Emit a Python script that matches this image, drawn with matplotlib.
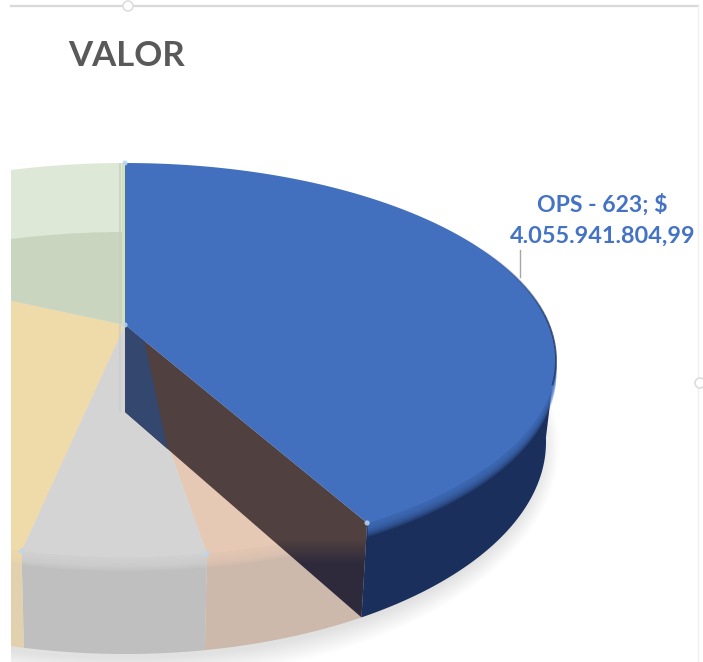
import numpy as np
import matplotlib
matplotlib.use("Agg")
import matplotlib.pyplot as plt
from matplotlib.patches import Polygon, Ellipse, Rectangle, Circle
from matplotlib.colors import to_rgb

# ---- data (only the first value is printed in it)
slice_names = ["OPS - 623", "B", "C", "D", "E"]
slice_values = [4055941804.99, 646000000, 691000000, 3068000000, 1552000000]
top_colors = ["#4270BE", "#E6C9B5", "#D4D4D4", "#EFDAA9", "#DEE8D6"]
side_colors = ["#1B2F5C", "#CDB9AC", "#BFBFBF", "#E2D1AE", "#C9D5BF"]
title_text = "VALOR"
label_lines = ["OPS - 623; $", "4.055.941.804,99"]

W, H = 703, 662
fig = plt.figure(figsize=(W / 100, H / 100), dpi=100)
ax = fig.add_axes([0, 0, 1, 1])
ax.set_xlim(0, W)
ax.set_ylim(H, 0)
ax.axis("off")

# perspective geometry of the pie, in pixels
CX, CY, RX, RY = 125, 360, 431, 197        # top ellipse
BX, BY, BRX, BRY = 125, 442, 421, 212      # bottom ellipse
APEX = np.array([125, 325])
APEX_B = np.array([125, 412])


def top_pt(t):
    return np.c_[CX + RX * np.sin(t), CY - RY * np.cos(t)]


def bot_pt(t):
    return np.c_[BX + BRX * np.sin(t), BY - BRY * np.cos(t)]


fr = np.array(slice_values) / np.sum(slice_values)
edges = np.r_[0, np.cumsum(fr)] * 2 * np.pi

# soft shadow
for k in range(15):
    ax.add_patch(Ellipse((122, 447), 2 * (420 + k * 1.2), 2 * (212 + k * 1.6),
                         fc="k", ec="none", alpha=0.009, zorder=1))


def fuzzy_rim(t, color, zorder, n=9, step=1.5):
    p = top_pt(t)
    for i in range(n, 0, -1):
        ax.fill_between(p[:, 0], p[:, 1] - 3, p[:, 1] + i * step, color=color,
                        alpha=0.22, lw=0, zorder=zorder)


# faded slices
for i in range(1, 5):
    t0, t1 = edges[i], edges[i + 1]
    t = np.linspace(t0, t1, 120)
    vis = np.linspace(max(t0, np.pi / 2), min(t1, 1.5 * np.pi), 120)
    if vis[-1] > vis[0]:
        side = np.vstack([top_pt(vis), bot_pt(vis)[::-1]])
        ax.add_patch(Polygon(side, fc=side_colors[i], ec="none", zorder=2))
    ax.add_patch(Polygon(np.vstack([APEX, top_pt(t)]), fc=top_colors[i], ec="none", zorder=3))
    if vis[-1] > vis[0]:
        fuzzy_rim(vis, top_colors[i], 4)

# darker band of the back slice
t = np.linspace(edges[4], edges[5], 200)
clip = Polygon(np.vstack([APEX, top_pt(t)]), transform=ax.transData, fc="none", ec="none")
ax.add_patch(clip)
band = Ellipse((CX, 429), 2 * RX, 2 * RY, fc=side_colors[4], ec="none", zorder=5)
ax.add_patch(band)
band.set_clip_path(clip)

# thin strips beside the slice joint
ax.plot([124, 124], [163, 325], color="#D7E1B6", lw=3, zorder=6, solid_capstyle="butt")
ax.plot([119.5, 119.5], [163, 412], color="#C8CEC8", lw=1.5, alpha=0.7, zorder=6, solid_capstyle="butt")

# blue slice: cut wall
te = edges[1]
rim_t = top_pt(np.array([te]))[0]
rim_b = bot_pt(np.array([te]))[0]
wall = Polygon([APEX, rim_t, rim_b, APEX_B], fc="none", ec="none", zorder=7)
ax.add_patch(wall)
yy = np.linspace(0, H, H)
c1, c2 = np.array(to_rgb("#50403F")), np.array(to_rgb("#2E2A3C"))
mix = np.clip((yy - 540) / 24, 0, 1)[:, None]
grad = (c1 * (1 - mix) + c2 * mix)[:, None, :]
im = ax.imshow(grad, extent=(0, W, H, 0), aspect="auto", zorder=7)
im.set_clip_path(wall)
ax.set_xlim(0, W)
ax.set_ylim(H, 0)
# blue part of the wall
f_top, f_bot = 0.08, 0.18
ax.add_patch(Polygon([APEX, APEX + f_top * (rim_t - APEX), APEX_B + f_bot * (rim_b - APEX_B), APEX_B],
                     fc="#33476F", ec="none", zorder=8))

# blue slice: outer side and top
vis = np.linspace(np.pi / 2 - 0.02, te, 200)
ax.add_patch(Polygon(np.vstack([top_pt(vis), bot_pt(vis)[::-1]]), fc=side_colors[0], ec="none", zorder=9))
t = np.linspace(0, te, 300)
fuzzy_rim(vis, top_colors[0], 10)
ax.add_patch(Polygon(np.vstack([APEX, top_pt(t)]), fc=top_colors[0], ec="none", zorder=11))
# rim darkening that fades in towards the right edge
rim_ts = np.linspace(0.95, 1.7, 30)
arc = top_pt(rim_ts)
for j in range(len(arc) - 1):
    ax.plot(arc[j:j + 2, 0], arc[j:j + 2, 1], color="#203864", lw=1.3,
            alpha=0.8 * min(1, j / 15), zorder=12, solid_capstyle="butt")

# mask of the left margin and frame
ax.add_patch(Rectangle((0, 0), 11, H, fc="white", ec="none", zorder=20))
ax.plot([11, 698], [6, 6], color="#D9D9D9", lw=1.6, zorder=21)
ax.plot([698, 698], [6, H], color="#F0F0F0", lw=1.0, zorder=21)
for xy in [(128, 6), (700, 383)]:
    ax.add_patch(Circle(xy, 5, fc="white", ec="#DDDDDD", lw=1.2, zorder=22))

# selection handles
hp = [top_pt(np.array([e]))[0] for e in edges[[0, 1, 2, 3]]] + [APEX]
for p in hp:
    ax.add_patch(Circle(p, 2.6, fc="#BBD6F0", ec="none", alpha=0.85, zorder=23))

# texts
ax.text(68, 66, title_text, fontsize=25, fontweight="bold", family="Lato", color="#595959",
        ha="left", va="baseline", zorder=25)
ax.text(602, 212, label_lines[0], fontsize=16.6, fontweight="bold", family="Lato", color="#4472C4",
        ha="center", va="baseline", zorder=25)
ax.text(603, 243, label_lines[1], fontsize=16.9, fontweight="bold", family="Lato", color="#4472C4",
        ha="center", va="baseline", zorder=25)
ax.plot([520, 520], [250, 277], color="#A6A6A6", lw=1, zorder=13)

fig.savefig("out.png", dpi=100)
